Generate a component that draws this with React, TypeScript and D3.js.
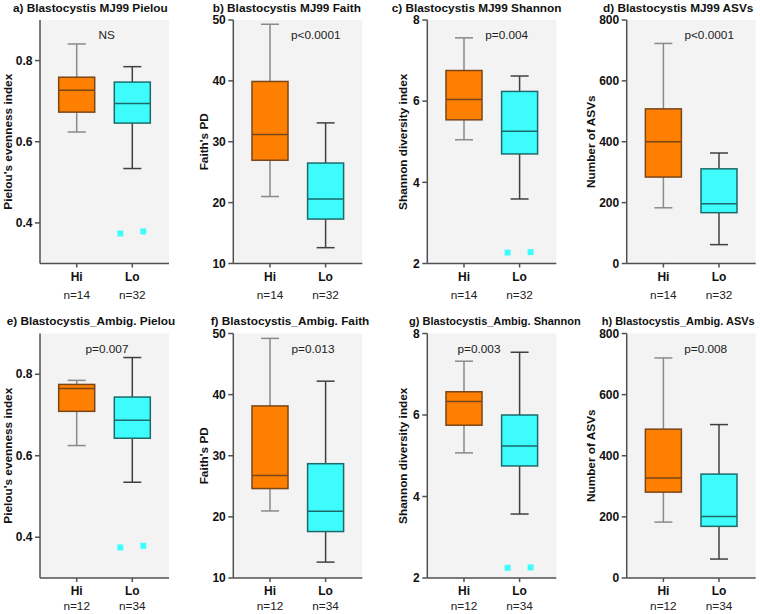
import React from "react";
import * as d3 from "d3";

const groups = ["Hi", "Lo"];
const panelTitles = [
  "a) Blastocystis MJ99 Pielou",
  "b) Blastocystis MJ99 Faith",
  "c) Blastocystis MJ99 Shannon",
  "d) Blastocystis MJ99 ASVs",
  "e) Blastocystis_Ambig. Pielou",
  "f) Blastocystis_Ambig. Faith",
  "g) Blastocystis_Ambig. Shannon",
  "h) Blastocystis_Ambig. ASVs",
];
const yLabels = [
  "Pielou's evenness index",
  "Faith's PD",
  "Shannon diversity index",
  "Number of ASVs",
];
const yDomains: [number, number][] = [[0.3, 0.9], [10, 50], [2, 8], [0, 800]];
const yTicks = [[0.4, 0.6, 0.8], [10, 20, 30, 40, 50], [2, 4, 6, 8], [0, 200, 400, 600, 800]];
const yFormats = [".1f", "d", "d", "d"];
const pLabels = ["NS", "p<0.0001", "p=0.004", "p<0.0001", "p=0.007", "p=0.013", "p=0.003", "p=0.008"];
const nLabels = [
  ["n=14", "n=32"], ["n=14", "n=32"], ["n=14", "n=32"], ["n=14", "n=32"],
  ["n=12", "n=34"], ["n=12", "n=34"], ["n=12", "n=34"], ["n=12", "n=34"],
];
// [min, q1, median, q3, max]
const hiStats = [
  [0.624, 0.673, 0.727, 0.759, 0.841],
  [21.0, 26.96, 31.2, 39.9, 49.3],
  [5.05, 5.54, 6.04, 6.755, 7.56],
  [183, 284, 400, 508, 723],
  [0.625, 0.709, 0.765, 0.775, 0.785],
  [20.97, 24.63, 26.76, 38.15, 49.2],
  [5.07, 5.75, 6.33, 6.57, 7.32],
  [183, 281, 327, 487, 720],
];
const loStats = [
  [0.534, 0.646, 0.694, 0.747, 0.785],
  [12.6, 17.3, 20.6, 26.5, 33.1],
  [3.59, 4.70, 5.26, 6.24, 6.62],
  [62, 167, 196, 311, 363],
  [0.535, 0.643, 0.687, 0.744, 0.841],
  [12.6, 17.6, 20.9, 28.7, 42.2],
  [3.57, 4.75, 5.24, 6.0, 7.54],
  [62, 169, 201, 340, 502],
];
const loOutliers = [
  [0.374, 0.379], [], [2.27, 2.28], [],
  [0.375, 0.379], [], [2.25, 2.26], [],
];

// layout
const colX = [40, 233.3, 427.3, 626.7];
const plotW = 129;
const rowTop = [20, 333.5];
const rowBottom = [263.5, 578];
const titleX = [13, 212.7, 391.7, 603, 6.7, 210.7, 409, 601.7];
const titleSize = [11.8, 11.8, 11.8, 11.8, 11.8, 11.8, 11, 11];
const titleY = [11.5, 325];
const yLabelX = [7.5, 203.5, 403, 591];
const pOffset = [66.7, 82.5, 79.4, 82.5, 67, 79.7, 51.7, 79];
const pY = [38.5, 352.5];
const nOffset = [35, 32];

const FONT = "'Liberation Sans', Arial, sans-serif";
const AXIS = "#505050";
const styles = [
  { fill: "#ff8000", stroke: "#7a4518", whisker: "#8a8a8a" },
  { fill: "#3ffcfc", stroke: "#1d6a6a", whisker: "#404040" },
];

function Panel({ i }: { i: number }) {
  const col = i % 4;
  const row = Math.floor(i / 4);
  const x0 = colX[col];
  const top = rowTop[row];
  const bottom = rowBottom[row];
  const x = d3.scalePoint<string>().domain(groups).range([x0, x0 + plotW]).padding(0.66);
  const y = d3.scaleLinear().domain(yDomains[col]).range([bottom, top]);
  const fmt = d3.format(yFormats[col]);
  const bw = 36;
  const stats = [hiStats[i], loStats[i]];
  return (
    <g>
      <rect x={x0} y={top} width={plotW} height={bottom - top} fill="#f3f3f3" />
      {stats.map((s, gi) => {
        const cx = x(groups[gi])!;
        const st = styles[gi];
        const [mn, q1, md, q3, mx] = s;
        return (
          <g key={gi}>
            <line x1={cx} x2={cx} y1={y(mx)} y2={y(q3)} stroke={st.whisker} strokeWidth={1.5} />
            <line x1={cx} x2={cx} y1={y(q1)} y2={y(mn)} stroke={st.whisker} strokeWidth={1.5} />
            <line x1={cx - bw / 4} x2={cx + bw / 4} y1={y(mx)} y2={y(mx)} stroke={st.whisker} strokeWidth={1.5} />
            <line x1={cx - bw / 4} x2={cx + bw / 4} y1={y(mn)} y2={y(mn)} stroke={st.whisker} strokeWidth={1.5} />
            <rect x={cx - bw / 2} y={y(q3)} width={bw} height={y(q1) - y(q3)} fill={st.fill} stroke={st.stroke} strokeWidth={1.5} />
            <line x1={cx - bw / 2} x2={cx + bw / 2} y1={y(md)} y2={y(md)} stroke={st.stroke} strokeWidth={1.5} />
          </g>
        );
      })}
      {loOutliers[i].map((v, k) => {
        const cx = x("Lo")! + (k === 0 ? -12 : 11);
        return <rect key={k} x={cx - 3} y={y(v) - 3} width={6} height={6} fill="#3ffcfc" />;
      })}
      <line x1={x0} x2={x0} y1={top} y2={bottom} stroke={AXIS} strokeWidth={1.5} />
      <line x1={x0} x2={x0 + plotW} y1={bottom} y2={bottom} stroke={AXIS} strokeWidth={1.5} />
      {yTicks[col].map((t) => (
        <g key={t}>
          <line x1={x0 - 5} x2={x0} y1={y(t)} y2={y(t)} stroke={AXIS} strokeWidth={1.5} />
          <text x={x0 - 7.5} y={y(t)} dy="0.35em" textAnchor="end" fontSize={12} fontWeight="bold" fontFamily={FONT} fill="#111">
            {fmt(t)}
          </text>
        </g>
      ))}
      {groups.map((g, gi) => (
        <g key={g}>
          <line x1={x(g)!} x2={x(g)!} y1={bottom} y2={bottom + 4} stroke={AXIS} strokeWidth={1.5} />
          <text x={x(g)!} y={bottom + 17} textAnchor="middle" fontSize={12} fontWeight="bold" fontFamily={FONT} fill="#111">
            {g}
          </text>
          <text x={x(g)!} y={bottom + nOffset[row]} textAnchor="middle" fontSize={11.8} fontFamily={FONT} fill="#222">
            {nLabels[i][gi]}
          </text>
        </g>
      ))}
      <text
        transform={`translate(${yLabelX[col]},${(top + bottom) / 2}) rotate(-90)`}
        dy="0.35em"
        textAnchor="middle"
        fontSize={11.8}
        fontWeight="bold"
        fontFamily={FONT}
        fill="#111"
      >
        {yLabels[col]}
      </text>
      <text x={x0 + pOffset[i]} y={pY[row]} textAnchor="middle" fontSize={11.8} fontFamily={FONT} fill="#222">
        {pLabels[i]}
      </text>
      <text x={titleX[i]} y={titleY[row]} fontSize={titleSize[i]} fontWeight="bold" fontFamily={FONT} fill="#111">
        {panelTitles[i]}
      </text>
    </g>
  );
}

export default function App() {
  return (
    <svg width={760} height={614} style={{ position: "absolute", left: 0, top: 0, background: "#fff" }}>
      <rect width={760} height={614} fill="#fff" />
      {panelTitles.map((_, i) => (
        <Panel key={i} i={i} />
      ))}
    </svg>
  );
}
